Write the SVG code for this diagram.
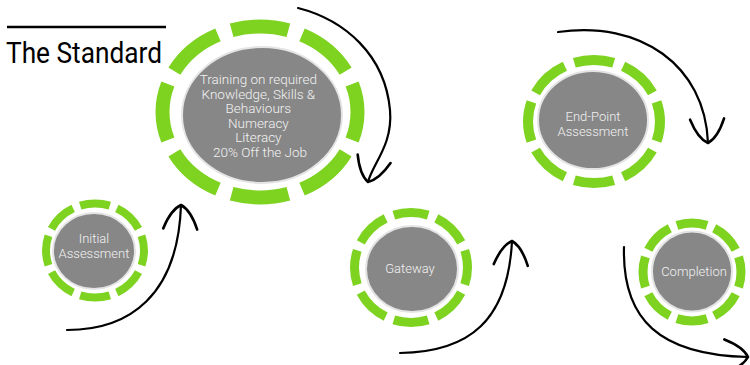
<svg xmlns="http://www.w3.org/2000/svg" width="750" height="365" viewBox="0 0 750 365">
<defs>
<style>
.ring{fill:none;stroke:#7ed321;stroke-dasharray:36 9;stroke-dashoffset:18}
.core{fill:#878787;stroke:#e4e4e4;stroke-width:2}
.lbl{font-family:Roboto,"Liberation Sans",sans-serif;font-weight:300;font-size:13px;fill:#f2f2f2;text-anchor:middle}
.arrow{fill:none;stroke:#000;stroke-width:2.2;stroke-linecap:round;marker-end:url(#head)}
</style>
<marker id="head" markerUnits="userSpaceOnUse" viewBox="-30 -20 40 40" refX="0" refY="0" markerWidth="40" markerHeight="40" orient="auto" overflow="visible">
<path d="M-24,-17 Q-5,-10 0,0 Q-5,10 -24,17" fill="none" stroke="#000" stroke-width="2.6" stroke-linecap="round" stroke-linejoin="round"/>
</marker>
</defs>
<rect width="750" height="365" fill="#fff"/>
<g id="title">
<line x1="7" y1="27" x2="166" y2="27" stroke="#000" stroke-width="2.5"/>
<text x="6" y="63" font-family="Roboto,'Liberation Sans',sans-serif" font-size="29" fill="#000" textLength="156" lengthAdjust="spacingAndGlyphs">The Standard</text>
</g>
<g id="connectors">
<path class="arrow" d="M67,330 C130,330 178,295 181,205"/>
<path class="arrow" d="M298,8 C345,20 385,55 390,110 C393,145 373,163 368,182"/>
<path class="arrow" d="M400,353 C470,352 508,320 512,241"/>
<path class="arrow" d="M558,32 C640,20 705,65 708,143"/>
<path class="arrow" d="M624,247 C622,320 660,355 748,357"/>
</g>
<g id="training">
<ellipse class="ring" cx="260" cy="112" rx="97.5" ry="85.5" stroke-width="14" pathLength="360"/>
<ellipse class="core" cx="262" cy="115" rx="80" ry="68"/>
<text class="lbl" style="font-size:13.5px">
<tspan x="260" y="84">Training on required</tspan>
<tspan x="260" y="98.5">Knowledge, Skills &amp;</tspan>
<tspan x="260" y="113">Behaviours</tspan>
<tspan x="260" y="127.5">Numeracy</tspan>
<tspan x="260" y="142">Literacy</tspan>
<tspan x="260" y="156.5">20% Off the Job</tspan>
</text>
</g>
<g id="initial">
<ellipse class="ring" cx="95" cy="250.5" rx="49" ry="47" stroke-width="8" pathLength="360"/>
<ellipse class="core" cx="94" cy="251" rx="41" ry="38"/>
<text class="lbl"><tspan x="94" y="243">Initial</tspan><tspan x="94" y="258">Assessment</tspan></text>
</g>
<g id="gateway">
<ellipse class="ring" cx="411" cy="267.5" rx="56.5" ry="55" stroke-width="9" pathLength="360"/>
<ellipse class="core" cx="412" cy="269" rx="46" ry="43"/>
<text class="lbl" x="410" y="273">Gateway</text>
</g>
<g id="endpoint">
<ellipse class="ring" cx="594" cy="121.5" rx="66" ry="61.5" stroke-width="10" pathLength="360"/>
<ellipse class="core" cx="593" cy="120" rx="55" ry="49"/>
<text class="lbl"><tspan x="593" y="121">End-Point</tspan><tspan x="593" y="136">Assessment</tspan></text>
</g>
<g id="completion">
<ellipse class="ring" cx="692" cy="272" rx="49" ry="49" stroke-width="9" pathLength="360"/>
<ellipse class="core" cx="692" cy="271.5" rx="40" ry="40"/>
<text class="lbl" x="694" y="275.5">Completion</text>
</g>
</svg>
